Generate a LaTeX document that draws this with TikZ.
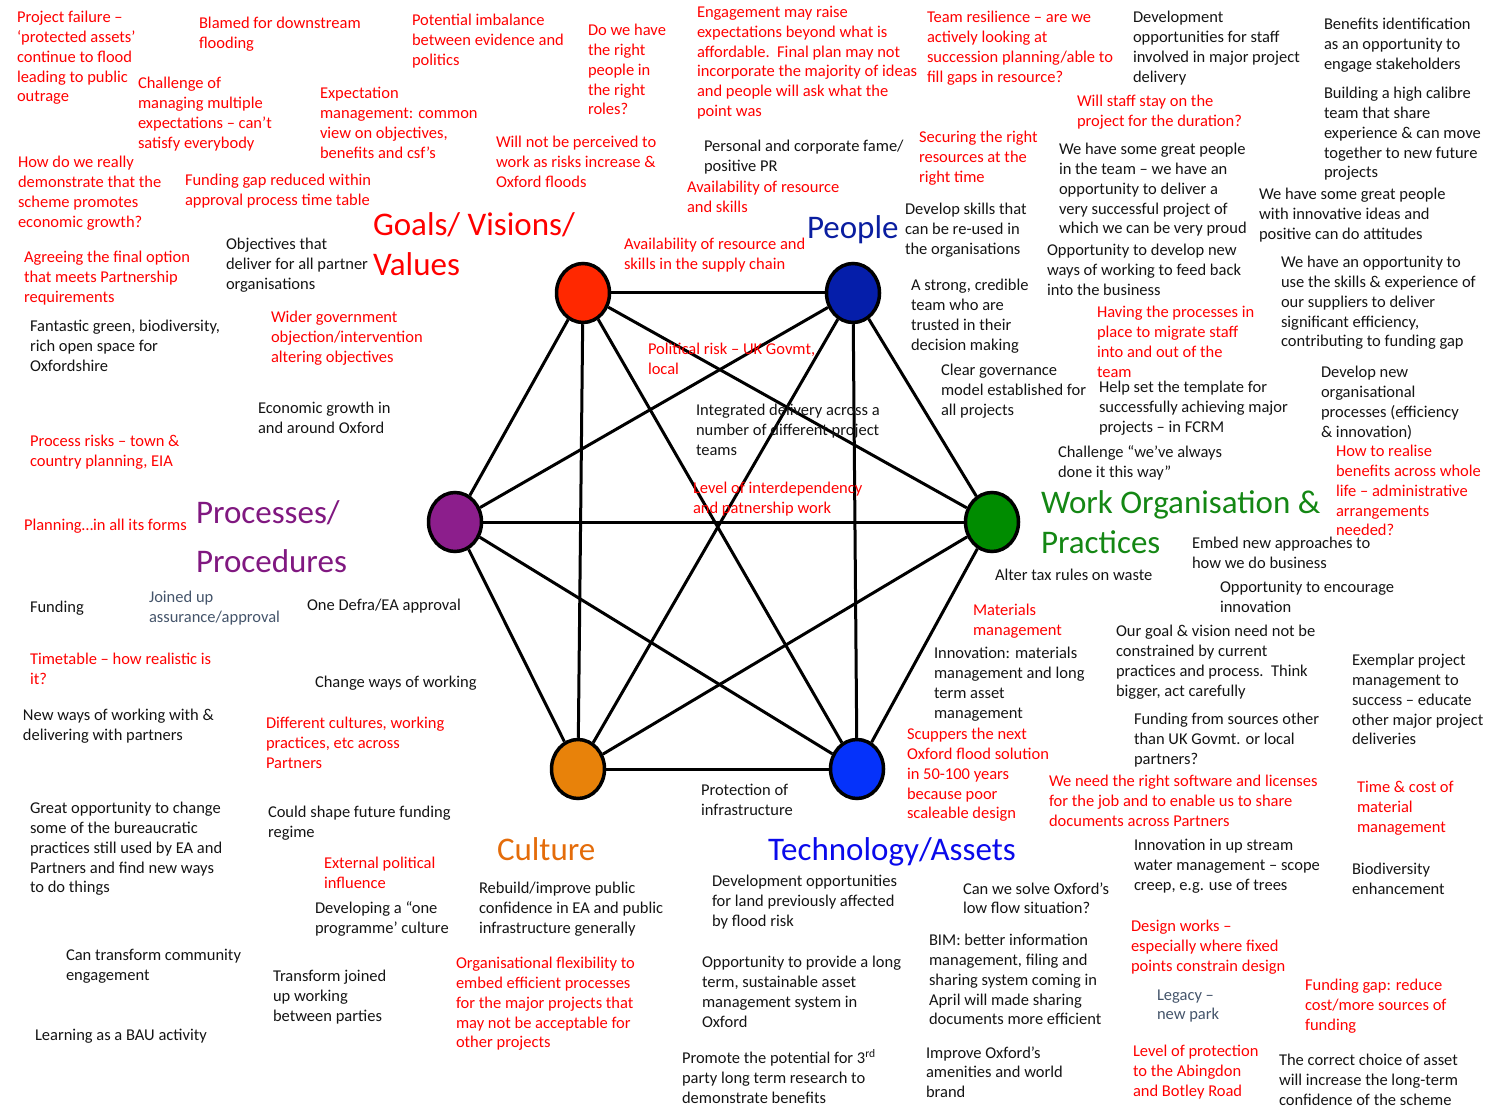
\documentclass[tikz,border=0pt]{standalone}
\usepackage{fontspec}
\setmainfont{Carlito}
\usetikzlibrary{shapes.geometric}
\pgfdeclarelayer{background}
\pgfsetlayers{background,main}

\definecolor{riskred}{RGB}{255,0,0}
\definecolor{inkblack}{RGB}{20,20,20}
\definecolor{slateblue}{RGB}{68,84,106}
\definecolor{goalsred}{RGB}{255,0,0}
\definecolor{peopleblue}{RGB}{10,30,160}
\definecolor{procpurple}{RGB}{128,24,128}
\definecolor{workgreen}{RGB}{20,135,20}
\definecolor{cultorange}{RGB}{228,108,10}
\definecolor{techblue}{RGB}{10,10,235}
\definecolor{fillred}{RGB}{255,40,0}
\definecolor{filldblue}{RGB}{5,30,170}
\definecolor{fillpurple}{RGB}{140,30,140}
\definecolor{fillgreen}{RGB}{0,140,0}
\definecolor{fillorange}{RGB}{232,130,10}
\definecolor{fillblue}{RGB}{5,50,250}

\begin{document}
\begin{tikzpicture}[x=1pt,y=-1pt,
  body/.style={anchor=north west, inner sep=0pt, outer sep=0pt, align=left,
    font=\fontsize{16.5}{19.7}\selectfont, yshift=5.5pt,
    execute at begin node=\rule{0pt}{13pt}},
  risk/.style={body, text=riskred},
  note/.style={body, text=inkblack},
  slate/.style={body, text=slateblue},
  heading/.style={anchor=north west, inner sep=0pt, outer sep=0pt, align=left,
    font=\fontsize{33}{40}\selectfont, yshift=12pt,
    execute at begin node=\rule{0pt}{26pt}},
  hub/.style={ellipse, draw=black, line width=3.5pt, minimum width=53pt,
    minimum height=59pt, inner sep=0pt},
  link/.style={draw=black, line width=3pt}]

\useasboundingbox (0,0) rectangle (1486,1107);

% ---- the six hubs ----
\node[hub, fill=fillred]    (g)  at (583,293) {};
\node[hub, fill=filldblue]  (p)  at (853,293) {};
\node[hub, fill=fillpurple] (pr) at (455,522) {};
\node[hub, fill=fillgreen]  (w)  at (992,522) {};
\node[hub, fill=fillorange] (c)  at (578,769) {};
\node[hub, fill=fillblue]   (t)  at (857,769) {};

% ---- every hub linked to every other ----
\begin{pgfonlayer}{background}
\foreach \a/\b in {g/p,g/pr,g/w,g/c,g/t,p/pr,p/w,p/c,p/t,pr/w,pr/c,pr/t,w/c,w/t,c/t}
  \draw[link] (\a) -- (\b);
\end{pgfonlayer}

% ---- headings ----
\node[heading, text=goalsred] (hg) at (373,225) {Goals/ Visions/\\Values};
\node[heading, text=peopleblue] (hp) at (807,225) {People};
\node[heading, text=procpurple, font=\fontsize{33}{49}\selectfont] (hpr) at (196,513) {Processes/\\Procedures};
\node[heading, text=workgreen] (hw) at (1041,503) {Work Organisation \&\\Practices};
\node[heading, text=cultorange] (hc) at (497,846) {Culture};
\node[heading, text=techblue] (ht) at (768,846) {Technology/Assets};

% ---- risks and issues ----
\node[risk] (r1) at (17,17) {Project failure –\\‘protected assets’\\continue to flood\\leading to public\\outrage};
\node[risk] (r2) at (199,23) {Blamed for downstream\\flooding};
\node[risk] (r3) at (412,20) {Potential imbalance\\between evidence and\\politics};
\node[risk] (r4) at (588,30) {Do we have\\the right\\people in\\the right\\roles?};
\node[risk] (r5) at (697,12) {Engagement may raise\\expectations beyond what is\\affordable.\ \ Final plan may not\\incorporate the majority of ideas\\and people will ask what the\\point was};
\node[risk] (r6) at (927,17) {Team resilience – are we\\actively looking at\\succession planning/able to\\fill gaps in resource?};
\node[risk] (r7) at (138,83) {Challenge of\\managing multiple\\expectations – can’t\\satisfy everybody};
\node[risk] (r8) at (320,93) {Expectation\\management: common\\view on objectives,\\benefits and csf’s};
\node[risk] (r9) at (1077,101) {Will staff stay on the\\project for the duration?};
\node[risk] (r10) at (496,142) {Will not be perceived to\\work as risks increase \&\\Oxford floods};
\node[risk] (r11) at (919,137) {Securing the right\\resources at the\\right time};
\node[risk] (r12) at (18,162) {How do we really\\demonstrate that the\\scheme promotes\\economic growth?};
\node[risk] (r13) at (185,180) {Funding gap reduced within\\approval process time table};
\node[risk] (r14) at (687,187) {Availability of resource\\and skills};
\node[risk] (r15) at (624,244) {Availability of resource and\\skills in the supply chain};
\node[risk] (r16) at (24,257) {Agreeing the final option\\that meets Partnership\\requirements};
\node[risk] (r17) at (271,317) {Wider government\\objection/intervention\\altering objectives};
\node[risk] (r18) at (1097,312) {Having the processes in\\place to migrate staff\\into and out of the\\team};
\node[risk] (r19) at (648,349) {Political risk – UK Govmt,\\local};
\node[risk] (r20) at (30,441) {Process risks – town \&\\country planning, EIA};
\node[risk] (r21) at (1336,451) {How to realise\\benefits across whole\\life – administrative\\arrangements\\needed?};
\node[risk] (r22) at (693,488) {Level of interdependency\\and patnership work};
\node[risk] (r23) at (24,523) {Planning…in all its forms};
\node[risk] (r24) at (973,610) {Materials\\management};
\node[risk] (r25) at (30,659) {Timetable – how realistic is\\it?};
\node[risk] (r26) at (266,723) {Different cultures, working\\practices, etc across\\Partners};
\node[risk] (r27) at (907,734) {Scuppers the next\\Oxford flood solution\\in 50-100 years\\because poor\\scaleable design};
\node[risk] (r28) at (1049,781) {We need the right software and licenses\\for the job and to enable us to share\\documents across Partners};
\node[risk] (r29) at (1357,787) {Time \& cost of\\material\\management};
\node[risk] (r30) at (324,863) {External political\\influence};
\node[risk] (r31) at (1131,926) {Design works –\\especially where fixed\\points constrain design};
\node[risk] (r32) at (456,963) {Organisational flexibility to\\embed efficient processes\\for the major projects that\\may not be acceptable for\\other projects};
\node[risk] (r33) at (1305,985) {Funding gap: reduce\\cost/more sources of\\funding};
\node[risk] (r34) at (1133,1051) {Level of protection\\to the Abingdon\\and Botley Road};

% ---- opportunities and notes ----
\node[note] (b1) at (1133,17) {Development\\opportunities for staff\\involved in major project\\delivery};
\node[note] (b2) at (1324,24) {Benefits identification\\as an opportunity to\\engage stakeholders};
\node[note] (b3) at (1324,93) {Building a high calibre\\team that share\\experience \& can move\\together to new future\\projects};
\node[note] (b4) at (704,146) {Personal and corporate fame/\\positive PR};
\node[note] (b5) at (1059,149) {We have some great people\\in the team – we have an\\opportunity to deliver a\\very successful project of\\which we can be very proud};
\node[note] (b6) at (1259,194) {We have some great people\\with innovative ideas and\\positive can do attitudes};
\node[note] (b7) at (905,209) {Develop skills that\\can be re-used in\\the organisations};
\node[note] (b8) at (226,244) {Objectives that\\deliver for all partner\\organisations};
\node[note] (b9) at (1047,250) {Opportunity to develop new\\ways of working to feed back\\into the business};
\node[note] (b10) at (1281,262) {We have an opportunity to\\use the skills \& experience of\\our suppliers to deliver\\significant efficiency,\\contributing to funding gap};
\node[note] (b11) at (911,285) {A strong, credible\\team who are\\trusted in their\\decision making};
\node[note] (b12) at (30,326) {Fantastic green, biodiversity,\\rich open space for\\Oxfordshire};
\node[note] (b13) at (941,370) {Clear governance\\model established for\\all projects};
\node[note] (b14) at (1321,372) {Develop new\\organisational\\processes (efficiency\\\& innovation)};
\node[note] (b15) at (1099,387) {Help set the template for\\successfully achieving major\\projects – in FCRM};
\node[note] (b16) at (258,408) {Economic growth in\\and around Oxford};
\node[note] (b17) at (696,410) {Integrated delivery across a\\number of different project\\teams};
\node[note] (b18) at (1058,451) {Challenge “we’ve always\\done it this way”};
\node[note] (b19) at (1192,543) {Embed new approaches to\\how we do business};
\node[note] (b20) at (995,573) {Alter tax rules on waste};
\node[note] (b21) at (1220,587) {Opportunity to encourage\\innovation};
\node[note] (b22) at (30,605) {Funding};
\node[note] (b23) at (307,603) {One Defra/EA approval};
\node[note] (b24) at (1116,631) {Our goal \& vision need not be\\constrained by current\\practices and process.\ \ Think\\bigger, act carefully};
\node[note] (b25) at (934,653) {Innovation: materials\\management and long\\term asset\\management};
\node[note] (b26) at (1352,660) {Exemplar project\\management to\\success – educate\\other major project\\deliveries};
\node[note] (b27) at (315,680) {Change ways of working};
\node[note] (b28) at (23,715) {New ways of working with \&\\delivering with partners};
\node[note] (b29) at (1134,719) {Funding from sources other\\than UK Govmt. or local\\partners?};
\node[note] (b30) at (701,790) {Protection of\\infrastructure};
\node[note] (b31) at (30,808) {Great opportunity to change\\some of the bureaucratic\\practices still used by EA and\\Partners and find new ways\\to do things};
\node[note] (b32) at (268,812) {Could shape future funding\\regime};
\node[note] (b33) at (1134,845) {Innovation in up stream\\water management – scope\\creep, e.g. use of trees};
\node[note] (b34) at (1352,869) {Biodiversity\\enhancement};
\node[note] (b35) at (712,881) {Development opportunities\\for land previously affected\\by flood risk};
\node[note] (b36) at (479,888) {Rebuild/improve public\\confidence in EA and public\\infrastructure generally};
\node[note] (b37) at (963,888) {Can we solve Oxford’s\\low flow situation?};
\node[note] (b38) at (315,907) {Developing a “one\\programme’ culture};
\node[note] (b39) at (929,940) {BIM: better information\\management, filing and\\sharing system coming in\\April will made sharing\\documents more efficient};
\node[note] (b40) at (66,955) {Can transform community\\engagement};
\node[note] (b41) at (702,962) {Opportunity to provide a long\\term, sustainable asset\\management system in\\Oxford};
\node[note] (b42) at (273,976) {Transform joined\\up working\\between parties};
\node[note] (b43) at (35,1033) {Learning as a BAU activity};
\node[note] (b44) at (926,1052) {Improve Oxford’s\\amenities and world\\brand};
\node[note] (b45) at (682,1055) {Promote the potential for 3\textsuperscript{rd}\\party long term research to\\demonstrate benefits};
\node[note] (b46) at (1279,1060) {The correct choice of asset\\will increase the long-term\\confidence of the scheme};

% ---- neutral items ----
\node[slate] (s1) at (149,597) {Joined up\\assurance/approval};
\node[slate] (s2) at (1157,995) {Legacy –\\new park};

\end{tikzpicture}
\end{document}
